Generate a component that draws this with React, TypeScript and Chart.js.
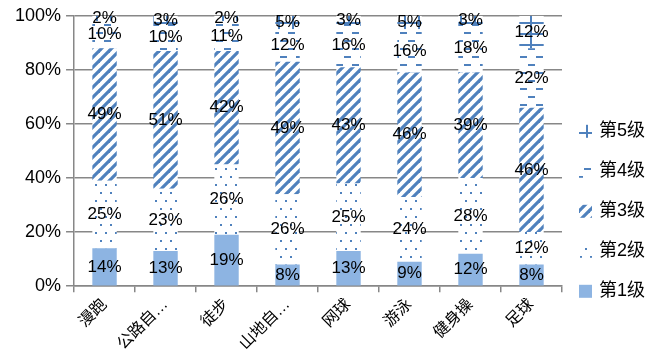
import React, { useEffect, useRef } from 'react';
import { Chart, registerables } from 'chart.js';

Chart.register(...registerables);

const categories = ['漫跑', '公路自…', '徒步', '山地自…', '网球', '游泳', '健身操', '足球'];
const level1 = [14, 13, 19, 8, 13, 9, 12, 8];
const level2 = [25, 23, 26, 26, 25, 24, 28, 12];
const level3 = [49, 51, 42, 49, 43, 46, 39, 46];
const level4 = [10, 10, 11, 12, 16, 16, 18, 22];
const level5 = [2, 3, 2, 5, 3, 5, 3, 12];
const seriesNames = ['第1级', '第2级', '第3级', '第4级', '第5级'];
const yMax = 100;
const yStep = 20;

const FONT = '"Liberation Sans", "Noto Sans CJK SC", sans-serif';
const BLUE = '#4F81BD';
const LIGHT = '#8DB4E2';
const GRAY = '#878787';

function makePattern(kind: string): CanvasPattern | string {
  const c = document.createElement('canvas');
  const ctx = c.getContext('2d');
  if (!ctx) return BLUE;
  if (kind === 'dots') {
    c.width = 10; c.height = 16;
    ctx.fillStyle = '#fff'; ctx.fillRect(0, 0, 10, 16);
    ctx.fillStyle = BLUE;
    ctx.fillRect(0, 0, 2, 2);
    ctx.fillRect(5, 8, 2, 2);
  } else if (kind === 'diag') {
    const s = 10;
    c.width = s; c.height = s;
    ctx.fillStyle = '#fff'; ctx.fillRect(0, 0, s, s);
    ctx.strokeStyle = BLUE; ctx.lineWidth = 3.2;
    for (const o of [-s, 0, s]) {
      ctx.beginPath();
      ctx.moveTo(o - 1, s + 1);
      ctx.lineTo(o + s + 1, -1);
      ctx.stroke();
    }
  } else if (kind === 'dash') {
    c.width = 16; c.height = 16;
    ctx.fillStyle = '#fff'; ctx.fillRect(0, 0, 16, 16);
    ctx.fillStyle = BLUE;
    ctx.fillRect(0, 0, 7, 2);
    ctx.fillRect(8, 8, 7, 2);
  } else {
    c.width = 14; c.height = 11;
    ctx.fillStyle = '#fff'; ctx.fillRect(0, 0, 14, 11);
    ctx.fillStyle = BLUE;
    ctx.fillRect(0, 0, 14, 2);
    ctx.fillRect(12, 0, 2, 11);
  }
  return ctx.createPattern(c, 'repeat') || BLUE;
}

const labelPlugin = {
  id: 'segLabels',
  afterDatasetsDraw(chart: any) {
    const ctx = chart.ctx;
    ctx.save();
    ctx.font = '17px ' + FONT;
    ctx.fillStyle = '#000';
    ctx.textAlign = 'center';
    ctx.textBaseline = 'middle';
    chart.data.datasets.forEach((ds: any, di: number) => {
      const meta = chart.getDatasetMeta(di);
      meta.data.forEach((el: any, i: number) => {
        const p = el.getProps(['x', 'y', 'base'], true);
        ctx.fillText(ds.data[i] + '%', p.x, (p.y + p.base) / 2);
      });
    });
    ctx.restore();
  },
};

const legendPlugin = {
  id: 'sideLegend',
  afterDraw(chart: any) {
    const ctx = chart.ctx;
    const area = chart.chartArea;
    const n = chart.data.datasets.length;
    ctx.save();
    ctx.font = '18px ' + FONT;
    ctx.textBaseline = 'middle';
    ctx.textAlign = 'left';
    for (let k = 0; k < n; k++) {
      const di = n - 1 - k;
      const ds = chart.data.datasets[di];
      const cy = area.top + 115 + k * 40;
      const bx = area.right + 17;
      ctx.fillStyle = ds.backgroundColor;
      ctx.fillRect(bx, cy - 6, 13, 13);
      ctx.fillStyle = '#000';
      ctx.fillText(ds.label, bx + 20, cy);
    }
    ctx.restore();
  },
};

export default function App() {
  const ref = useRef<HTMLCanvasElement | null>(null);
  useEffect(() => {
    if (!ref.current) return;
    const fills = [LIGHT, makePattern('dots'), makePattern('diag'), makePattern('dash'), makePattern('grid')];
    const values = [level1, level2, level3, level4, level5];
    const chart = new Chart(ref.current, {
      type: 'bar',
      data: {
        labels: categories,
        datasets: values.map((v, i) => ({
          label: seriesNames[i],
          data: v,
          backgroundColor: fills[i] as any,
          borderWidth: 0,
          categoryPercentage: 1,
          barPercentage: 0.4,
        })),
      },
      options: {
        animation: false,
        responsive: false,
        devicePixelRatio: 1,
        layout: { padding: { left: 10, top: 12, right: 99, bottom: 4 } },
        plugins: { legend: { display: false }, tooltip: { enabled: false } },
        scales: {
          x: {
            stacked: true,
            grid: { offset: true, drawOnChartArea: false, drawTicks: true, tickLength: 6, color: GRAY, lineWidth: 1.5 },
            border: { color: GRAY, width: 1.5 },
            ticks: { minRotation: 45, maxRotation: 45, autoSkip: false, color: '#000', font: { family: FONT, size: 16 } },
          },
          y: {
            stacked: true,
            min: 0,
            max: yMax,
            grid: { color: GRAY, lineWidth: 1.5, tickLength: 8 },
            border: { color: GRAY, width: 1.5 },
            ticks: { stepSize: yStep, color: '#000', padding: 5, font: { family: FONT, size: 18 }, callback: (v: any) => v + '%' },
          },
        },
      },
      plugins: [labelPlugin, legendPlugin],
    });
    return () => chart.destroy();
  }, []);
  return (
    <div style={{ position: 'fixed', left: 0, top: 0, width: 661, height: 361, background: '#fff' }}>
      <canvas ref={ref} width={661} height={361} />
    </div>
  );
}
